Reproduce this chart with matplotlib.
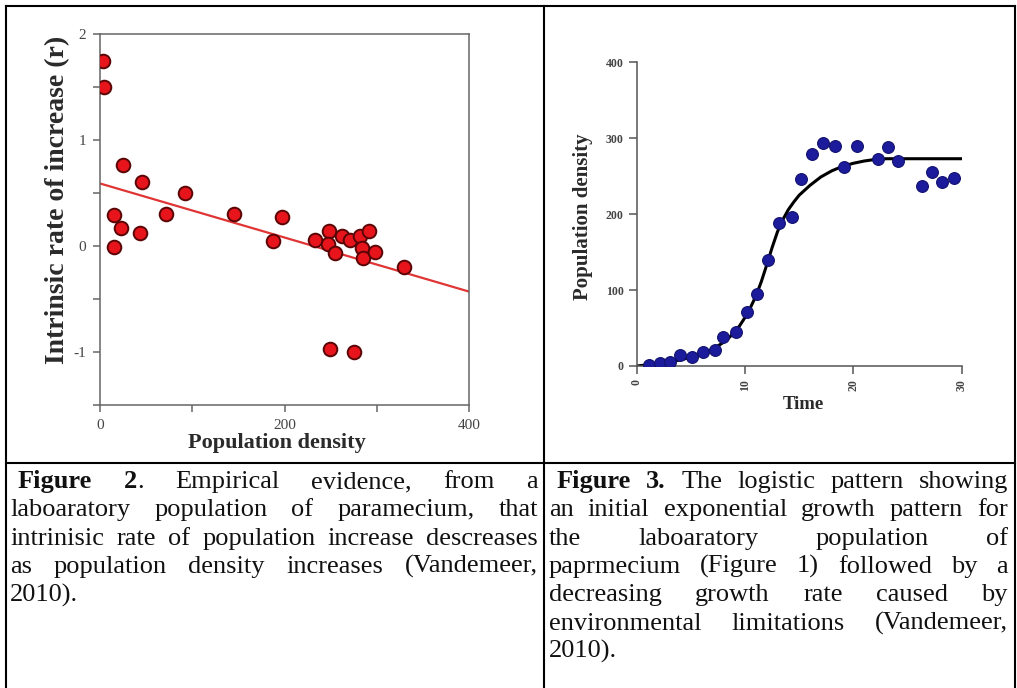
import matplotlib
matplotlib.use('Agg')
from matplotlib import pyplot as plt
from matplotlib.lines import Line2D

# figure 2 data: density vs intrinsic rate r
dens = [3.6, 4.7, 25, 45, 92, 15, 23, 43, 15, 72, 145, 197, 187,
        233, 248.6, 247.5, 254.7, 262, 271, 282, 292, 283.7, 284.8, 298, 329.5,
        249, 275]
rate = [1.75, 1.50, 0.76, 0.60, 0.50, 0.29, 0.17, 0.12, -0.01, 0.30, 0.30, 0.27, 0.05,
        0.055, 0.137, 0.016, -0.064, 0.096, 0.055, 0.096, 0.137, -0.016, -0.112, -0.055, -0.20,
        -0.97, -1.00]
fit_x = [0, 400]
fit_y = [0.59, -0.43]

# figure 3 data: time vs population density
time = [1.1, 2.15, 3.1, 4.0, 5.1, 6.15, 7.2, 8.0, 9.2, 10.15, 11.1, 12.15, 13.1, 14.3,
        15.2, 16.2, 17.2, 18.3, 19.1, 20.3, 22.3, 23.2, 24.1, 26.3, 27.3, 28.2, 29.3]
pop = [1.3, 3.5, 5.7, 14.5, 12.3, 18.9, 21, 38.6, 45, 70.7, 94.8, 139.6, 188, 196,
       246, 279, 294, 290, 262, 290, 273, 289, 270, 237, 256, 242, 248]
curve_t = [0, 1, 2, 3, 4, 5, 6, 7, 8, 8.5, 9, 9.5, 10, 10.5, 11, 11.5, 12, 12.5, 13, 13.5,
           14, 14.5, 15, 16, 17, 18, 19, 20, 21, 22, 23, 24, 30]
curve_n = [0, 1.5, 3, 5, 8, 11.5, 16, 22, 31, 37, 44, 53, 64, 77, 92, 111, 133, 156, 177, 193,
           206, 216, 225, 238, 249, 257, 263, 267, 270, 272, 273, 273, 273]

cap_left = ["**Figure 2**. Empirical evidence, from a",
            "laboaratory population of paramecium, that",
            "intrinisic rate of population increase descreases",
            "as population density increases (Vandemeer,",
            "2010)."]
cap_right = ["**Figure 3.** The logistic pattern showing",
             "an initial exponential growth pattern for",
             "the laboaratory population of",
             "paprmecium (Figure 1) followed by a",
             "decreasing growth rate caused by",
             "environmental limitations (Vandemeer,",
             "2010)."]

W, H = 1017, 688
fig = plt.figure(figsize=(W / 100, H / 100), dpi=100)
serif = 'Liberation Serif'

# ---- left chart
ax1 = fig.add_axes([100 / W, 1 - 405 / H, 369 / W, 371 / H])
ax1.plot(fit_x, fit_y, color='#e03535', lw=1.6, zorder=2)
ax1.plot(dens, rate, 'o', ms=9.8, mfc='#e8141c', mec='#5a0505', mew=1.4, zorder=3)
ax1.set_xlim(0, 400)
ax1.set_ylim(-1.5, 2)
ax1.set_xticks([0, 100, 200, 300, 400])
ax1.set_xticklabels(['0', '', '200', '', '400'])
ax1.set_yticks([-1.5, -1, -0.5, 0, 0.5, 1, 1.5, 2])
ax1.set_yticklabels(['', '-1', '', '0', '', '1', '', '2'])
for s in ax1.spines.values():
    s.set_color('#666666')
    s.set_linewidth(1.1)
ax1.tick_params(direction='out', length=5, width=1.1, color='#666666',
                labelsize=11, labelcolor='#444444', pad=5)
for lab in ax1.get_xticklabels() + ax1.get_yticklabels():
    lab.set_family(serif)
ax1.set_ylabel('Intrinsic rate of increase (r)', fontsize=20, weight='bold',
               family=serif, color='#2a2a2a', va='center')
ax1.yaxis.set_label_coords(-0.114, 0.553)
ax1.set_xlabel('Population density', fontsize=16, weight='bold',
               family=serif, color='#2a2a2a', va='center')
ax1.xaxis.set_label_coords(0.48, -0.102)

# ---- right chart
ax2 = fig.add_axes([636.7 / W, 1 - 366 / H, 325 / W, 303.7 / H])
ax2.plot(curve_t, curve_n, color='black', lw=2.2, zorder=2)
ax2.plot(time, pop, 'o', ms=8.5, mfc='#1b1b9c', mec='#12126e', mew=0.8, zorder=3)
ax2.set_xlim(0, 30)
ax2.set_ylim(0, 400)
ax2.set_xticks([0, 10, 20, 30])
ax2.set_yticks([0, 100, 200, 300, 400])
ax2.spines['top'].set_visible(False)
ax2.spines['right'].set_visible(False)
for s in ('left', 'bottom'):
    ax2.spines[s].set_color('#555555')
    ax2.spines[s].set_linewidth(1.1)
ax2.tick_params(direction='out', length=5.5, width=1.1, color='#555555',
                labelsize=8.5, labelcolor='#444444', pad=4)
for lab in ax2.get_xticklabels():
    lab.set_rotation(90)
for lab in ax2.get_xticklabels() + ax2.get_yticklabels():
    lab.set_family(serif)
    lab.set_weight('bold')
ax2.set_ylabel('Population density', fontsize=15, weight='bold',
               family=serif, color='#2a2a2a', va='center')
ax2.yaxis.set_label_coords(-0.166, 0.49)
ax2.set_xlabel('Time', fontsize=13.5, weight='bold',
               family=serif, color='#2a2a2a', va='center')
ax2.xaxis.set_label_coords(0.512, -0.128)

# ---- table borders
def hline(y, x0, x1):
    fig.add_artist(Line2D([x0 / W, x1 / W], [1 - y / H, 1 - y / H], color='black', lw=1.5))

def vline(x, y0, y1):
    fig.add_artist(Line2D([x / W, x / W], [1 - y0 / H, 1 - y1 / H], color='black', lw=1.5))

hline(6, 6, 1015)
hline(463, 6, 1015)
for xv in (6, 544, 1015):
    vline(xv, 6, 688)

# ---- justified captions
renderer = fig.canvas.get_renderer()
cap_size = 19


def parse(line):
    bold = False
    words = []
    for w in line.split():
        segs = []
        for i, p in enumerate(w.split('**')):
            if i > 0:
                bold = not bold
            if p:
                segs.append((p, bold))
        words.append(segs)
    return words


def put_line(line, x0, x1, y, justify):
    rows = []
    for segs in parse(line):
        rows.append([fig.text(0, 0, s, fontsize=cap_size, family=serif,
                              weight='bold' if b else 'normal', color='#111111',
                              ha='left', va='baseline') for s, b in segs])
    widths = [[t.get_window_extent(renderer).width for t in r] for r in rows]
    total = sum(sum(w) for w in widths)
    if justify and len(rows) > 1:
        gap = (x1 - x0 - total) / (len(rows) - 1)
    else:
        gap = cap_size * 100 / 72 * 0.25
    x = x0
    for r, ws in zip(rows, widths):
        for t, w in zip(r, ws):
            t.set_position((x / W, 1 - y / H))
            x += w
        x += gap


pitch = 28.3
for i, line in enumerate(cap_left):
    put_line(line, 18 if i == 0 else 10, 538, 488 + i * pitch, i < len(cap_left) - 1)
for i, line in enumerate(cap_right):
    put_line(line, 557 if i == 0 else 549, 1008, 488 + i * pitch, i < len(cap_right) - 1)

fig.savefig('out.png', dpi=100)
